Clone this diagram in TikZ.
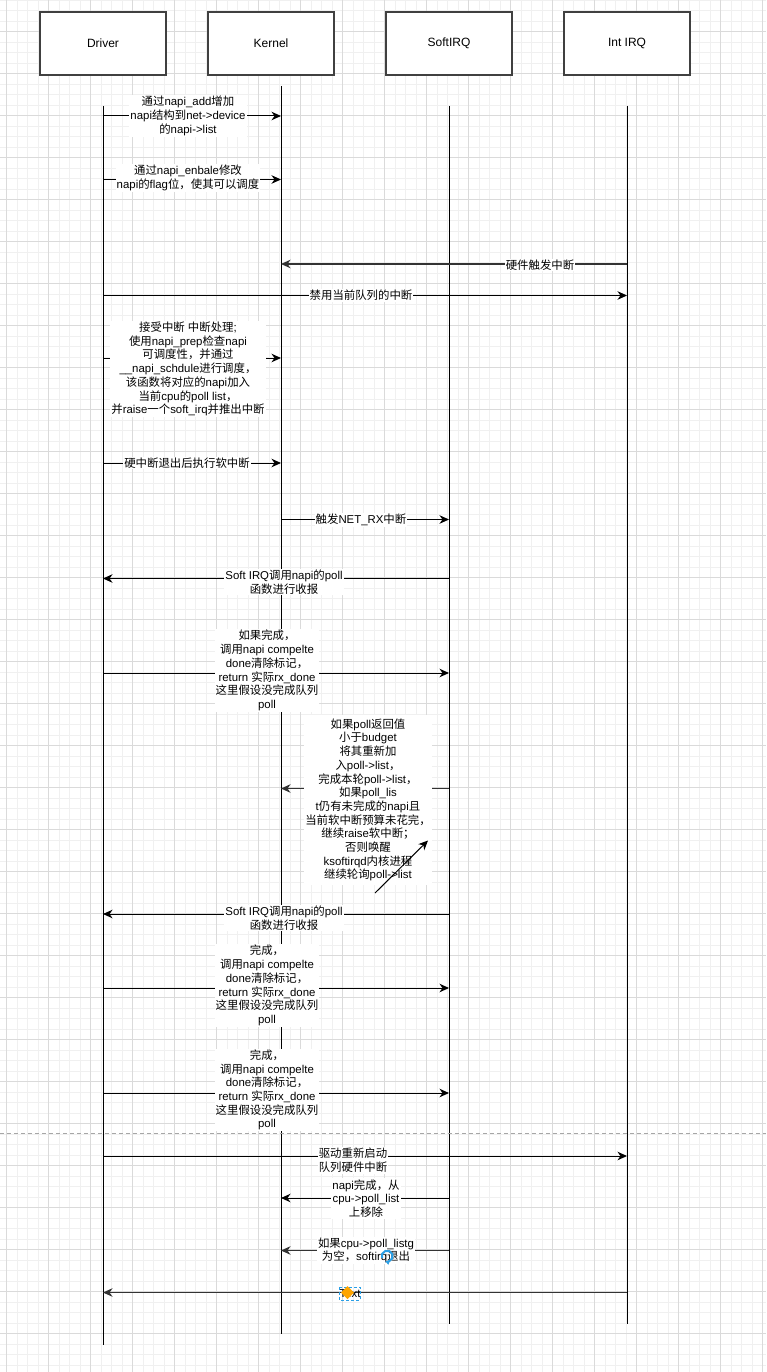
\documentclass[tikz,border=0pt]{standalone}
\usepackage{fontspec}
\setmainfont{Liberation Sans}
\newfontfamily\cjk{Noto Sans CJK SC}
\usetikzlibrary{arrows.meta}
\XeTeXinterchartokenstate=1
\newXeTeXintercharclass\CJKcls
\makeatletter
\count@="3000
\loop\XeTeXcharclass\count@=\CJKcls \advance\count@ 1 \ifnum\count@<"3040 \repeat
\count@="4E00
\loop\XeTeXcharclass\count@=\CJKcls \advance\count@ 1 \ifnum\count@<"A000 \repeat
\count@="FF00
\loop\XeTeXcharclass\count@=\CJKcls \advance\count@ 1 \ifnum\count@<"FFF0 \repeat
\makeatother
\XeTeXinterchartoks 0 \CJKcls = {\cjk}
\XeTeXinterchartoks 4095 \CJKcls = {\cjk}
\XeTeXinterchartoks \CJKcls 0 = {\rmfamily}
\XeTeXinterchartoks \CJKcls 4095 = {\rmfamily}
\definecolor{gridminor}{HTML}{F0F0F0}
\definecolor{gridmajor}{HTML}{DADADA}
\definecolor{boxline}{HTML}{404040}
\definecolor{selblue}{HTML}{2A9FE6}
\definecolor{selorange}{HTML}{FFA500}
\begin{document}
\begin{tikzpicture}[x=1pt,y=-1pt,
  minorline/.style={gridminor,line width=0.8pt},
  majorline/.style={gridmajor,line width=0.9pt},
  hdr/.style={draw=boxline,line width=1.1pt,fill=white,minimum width=126pt,minimum height=63pt,inner sep=0pt,font=\fontsize{12}{14}\selectfont},
  life/.style={black,line width=1pt},
  tip/.style={-{Stealth[length=9.5pt,width=8.5pt,inset=3pt]}},
  msg/.style={black,line width=1pt,tip},
  msgb/.style={black!80,line width=1.5pt,tip},
  lbl/.style={fill=white,inner sep=1pt,align=center,font=\fontsize{11.4}{13.7}\selectfont},
  sep/.style={black!35,line width=1pt,dash pattern=on 4pt off 3pt}
]
\useasboundingbox (0,0) rectangle (766,1372);
\fill[white] (0,0) rectangle (766,1372);
% grid
\foreach \i in {0,...,72} \draw[minorline] ({6.7+10.5*\i},0) -- ({6.7+10.5*\i},1372);
\foreach \i in {0,...,130} \draw[minorline] (0,{10.5*\i}) -- (766,{10.5*\i});
\foreach \i in {0,...,18} \draw[majorline] ({6.7+42*\i},0) -- ({6.7+42*\i},1372);
\foreach \i in {0,...,32} \draw[majorline] (0,{31.5+42*\i}) -- (766,{31.5+42*\i});

% headers
\node[hdr] (hD) at (103,43.5) {Driver};
\node[hdr] (hK) at (271,43.5) {Kernel};
\node[hdr] (hS) at (449,43.5) {SoftIRQ};
\node[hdr] (hI) at (627,43.5) {Int IRQ};

% lifelines
\coordinate (dT) at (103,106); \coordinate (dB) at (103,1345);
\coordinate (kT) at (281,86);  \coordinate (kB) at (281,1334);
\coordinate (sT) at (449,106); \coordinate (sB) at (449,1324);
\coordinate (iT) at (627,106); \coordinate (iB) at (627,1324);
\draw[life] (dT) -- (dB);
\draw[life] (kT) -- (kB);
\draw[life] (sT) -- (sB);
\draw[life] (iT) -- (iB);

% separator
\coordinate (sepL) at (0,1133); \coordinate (sepR) at (766,1133);
\draw[sep] (sepL) -- (sepR);

% 1
\coordinate (a1) at (103,116); \coordinate (b1) at (281,116);
\draw[msg] (a1) -- (b1);
\node[lbl] (t1) at (188,116) {通过napi\_add增加\\napi结构到net->device\\的napi->list};
% 2
\coordinate (a2) at (103,179.5); \coordinate (b2) at (281,179.5);
\draw[msg] (a2) -- (b2);
\node[lbl] (t2) at (188,178) {通过napi\_enbale修改\\napi的flag位，使其可以调度};
% 3
\coordinate (a3) at (627,264); \coordinate (b3) at (281,264);
\draw[msgb] (a3) -- (b3);
\node[lbl] (t3) at (540,265) {硬件触发中断};
% 4
\coordinate (a4) at (103,295.5); \coordinate (b4) at (627,295.5);
\draw[msg] (a4) -- (b4);
\node[lbl] (t4) at (361,295.5) {禁用当前队列的中断};
% 5
\coordinate (a5) at (103,358); \coordinate (b5) at (281,358);
\draw[msg] (a5) -- (b5);
\node[lbl] (t5) at (188,369) {接受中断 中断处理;\\使用napi\_prep检查napi\\可调度性，并通过\\\_\_napi\_schdule进行调度，\\该函数将对应的napi加入\\当前cpu的poll list，\\并raise一个soft\_irq并推出中断};
% 6
\coordinate (a6) at (103,463); \coordinate (b6) at (281,463);
\draw[msg] (a6) -- (b6);
\node[lbl] (t6) at (187,463) {硬中断退出后执行软中断};
% 7
\coordinate (a7) at (281,519.5); \coordinate (b7) at (449,519.5);
\draw[msg] (a7) -- (b7);
\node[lbl] (t7) at (361,520) {触发NET\_RX中断};
% 8
\coordinate (a8) at (449,578.5); \coordinate (b8) at (103,578.5);
\draw[msg] (a8) -- (b8);
\node[lbl] (t8) at (284,582) {Soft IRQ调用napi的poll\\函数进行收报};
% 9
\coordinate (a9) at (103,673); \coordinate (b9) at (449,673);
\draw[msg] (a9) -- (b9);
\node[lbl] (t9) at (267,670.5) {如果完成，\\调用napi compelte\\done清除标记，\\return 实际rx\_done\\这里假设没完成队列\\poll};
% 10
\coordinate (a10) at (449,788.5); \coordinate (b10) at (281,788.5);
\draw[msgb] (a10) -- (b10);
\node[lbl,inner ysep=4pt] (t10) at (368,800) {如果poll返回值\\小于budget\\将其重新加\\入poll->list，\\完成本轮poll->list，\\如果poll\_lis\\t仍有未完成的napi且\\当前软中断预算未花完，\\继续raise软中断；\\否则唤醒\\ksoftirqd内核进程\\继续轮询poll->list};
\coordinate (x1) at (375,893); \coordinate (x2) at (428,840.5);
\draw[black,line width=1pt,tip] (x1) -- (x2);
% 11
\coordinate (a11) at (449,914); \coordinate (b11) at (103,914);
\draw[msg] (a11) -- (b11);
\node[lbl] (t11) at (284,918) {Soft IRQ调用napi的poll\\函数进行收报};
% 12
\coordinate (a12) at (103,988); \coordinate (b12) at (449,988);
\draw[msg] (a12) -- (b12);
\node[lbl] (t12) at (267,985.5) {完成，\\调用napi compelte\\done清除标记，\\return 实际rx\_done\\这里假设没完成队列\\poll};
% 13
\coordinate (a13) at (103,1093); \coordinate (b13) at (449,1093);
\draw[msg] (a13) -- (b13);
\node[lbl] (t13) at (267,1090) {完成，\\调用napi compelte\\done清除标记，\\return 实际rx\_done\\这里假设没完成队列\\poll};
% 14
\coordinate (a14) at (103,1156); \coordinate (b14) at (627,1156);
\draw[msg] (a14) -- (b14);
\node[lbl] (t14) at (353,1160.5) {驱动重新启动\\队列硬件中断};
% 15
\coordinate (a15) at (449,1198); \coordinate (b15) at (281,1198);
\draw[msg] (a15) -- (b15);
\node[lbl] (t15) at (366,1198.5) {napi完成，从\\cpu->poll\_list\\上移除};
% 16
\coordinate (a16) at (449,1250.5); \coordinate (b16) at (281,1250.5);
\draw[msgb] (a16) -- (b16);
\node[lbl] (t16) at (366,1250.5) {如果cpu->poll\_listg\\为空，softirq退出};
% 17
\coordinate (a17) at (627,1292.5); \coordinate (b17) at (103,1292.5);
\draw[msgb] (a17) -- (b17);
\node[font=\fontsize{11.4}{13.7}\selectfont,inner sep=0pt] (t17) at (350,1294) {Text};
% selection artefacts
\draw[selblue,line width=1pt,dash pattern=on 3pt off 2pt] (339,1287) rectangle (360,1300);
\fill[selorange] (341,1292.5) -- (347.5,1286) -- (354,1292.5) -- (347.5,1299) -- cycle;
\draw[selblue,line width=2pt,-{Latex[length=4pt,width=5pt]}] (382,1258) arc[start angle=200,end angle=-110,radius=5.5pt];
\end{tikzpicture}
\end{document}
